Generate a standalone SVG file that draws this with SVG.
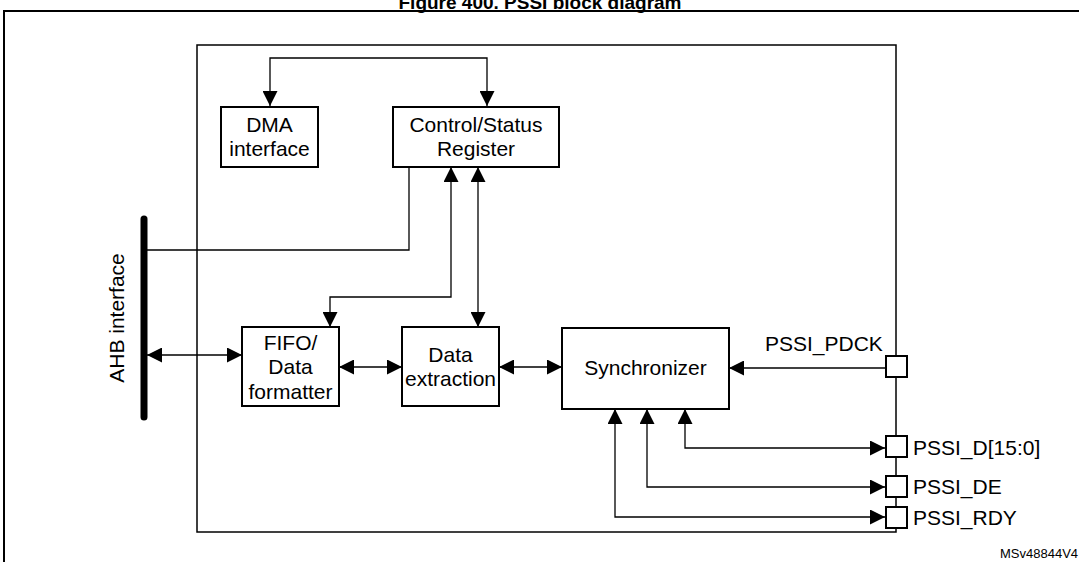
<svg xmlns="http://www.w3.org/2000/svg" width="1079" height="562" viewBox="0 0 1079 562">
<style>
text{font-family:"Liberation Sans",Arial,sans-serif;font-size:21px;fill:#000}
.b{fill:#fff;stroke:#000;stroke-width:2}
.c{fill:none;stroke:#000;stroke-width:1.3}
</style>
<defs>
<marker id="a" viewBox="0 0 10 10" refX="10" refY="5" markerWidth="15" markerHeight="15" markerUnits="userSpaceOnUse" orient="auto-start-reverse"><path d="M0,0L10,5L0,10z"/></marker>
</defs>
<rect width="1079" height="562" fill="#fff"/>
<text x="540" y="9" text-anchor="middle" style="font-weight:bold;font-size:19px">Figure 400. PSSI block diagram</text>
<rect x="4" y="11" width="1090" height="570" fill="none" stroke="#000" stroke-width="2"/>
<rect x="197" y="45" width="699" height="487" fill="none" stroke="#000" stroke-width="1.5"/>
<g id="ahb"><line x1="144" y1="219" x2="144" y2="417" stroke="#000" stroke-width="7" stroke-linecap="round"/><text transform="translate(124,318) rotate(-90)" text-anchor="middle">AHB interface</text></g>
<g id="connectors">
<path class="c" d="M270,106V58H487V106" marker-start="url(#a)" marker-end="url(#a)"/>
<path class="c" d="M147,250H409V167"/>
<path class="c" d="M330,327V297H451V167" marker-start="url(#a)" marker-end="url(#a)"/>
<path class="c" d="M478,167V327" marker-start="url(#a)" marker-end="url(#a)"/>
<path class="c" d="M147,355H242" marker-start="url(#a)" marker-end="url(#a)"/>
<path class="c" d="M339,367H402" marker-start="url(#a)" marker-end="url(#a)"/>
<path class="c" d="M499,367H562" marker-start="url(#a)" marker-end="url(#a)"/>
<path class="c" d="M885,368H729" marker-end="url(#a)"/>
<path class="c" d="M685,409V448H885" marker-start="url(#a)" marker-end="url(#a)"/>
<path class="c" d="M647,409V487H885" marker-start="url(#a)" marker-end="url(#a)"/>
<path class="c" d="M615,409V517H885" marker-start="url(#a)" marker-end="url(#a)"/>
</g>
<g id="dma"><rect class="b" x="221" y="107" width="97" height="60"/><text x="269.5" y="132" text-anchor="middle">DMA</text><text x="269.5" y="156" text-anchor="middle">interface</text></g>
<g id="csr"><rect class="b" x="393" y="107" width="166" height="60"/><text x="476" y="132" text-anchor="middle">Control/Status</text><text x="476" y="156" text-anchor="middle">Register</text></g>
<g id="fifo"><rect class="b" x="242" y="327" width="97" height="79"/><text x="290.5" y="350" text-anchor="middle">FIFO/</text><text x="290.5" y="374" text-anchor="middle">Data</text><text x="290.5" y="399" text-anchor="middle">formatter</text></g>
<g id="dext"><rect class="b" x="402" y="327" width="97" height="79"/><text x="450.5" y="362" text-anchor="middle">Data</text><text x="450.5" y="386" text-anchor="middle">extraction</text></g>
<g id="sync"><rect class="b" x="562" y="328" width="167" height="81"/><text x="645.5" y="375" text-anchor="middle">Synchronizer</text></g>
<g id="pdck"><rect class="b" x="886" y="356" width="21" height="21" stroke-width="1.5"/><text x="765" y="351">PSSI_PDCK</text></g>
<g id="pd"><rect class="b" x="886" y="436" width="21" height="21" stroke-width="1.5"/><text x="913" y="455">PSSI_D[15:0]</text></g>
<g id="pde"><rect class="b" x="886" y="476" width="21" height="21" stroke-width="1.5"/><text x="913" y="494">PSSI_DE</text></g>
<g id="prdy"><rect class="b" x="886" y="507" width="21" height="21" stroke-width="1.5"/><text x="913" y="525">PSSI_RDY</text></g>
<text x="1000" y="558" style="font-size:13px">MSv48844V4</text>
</svg>
